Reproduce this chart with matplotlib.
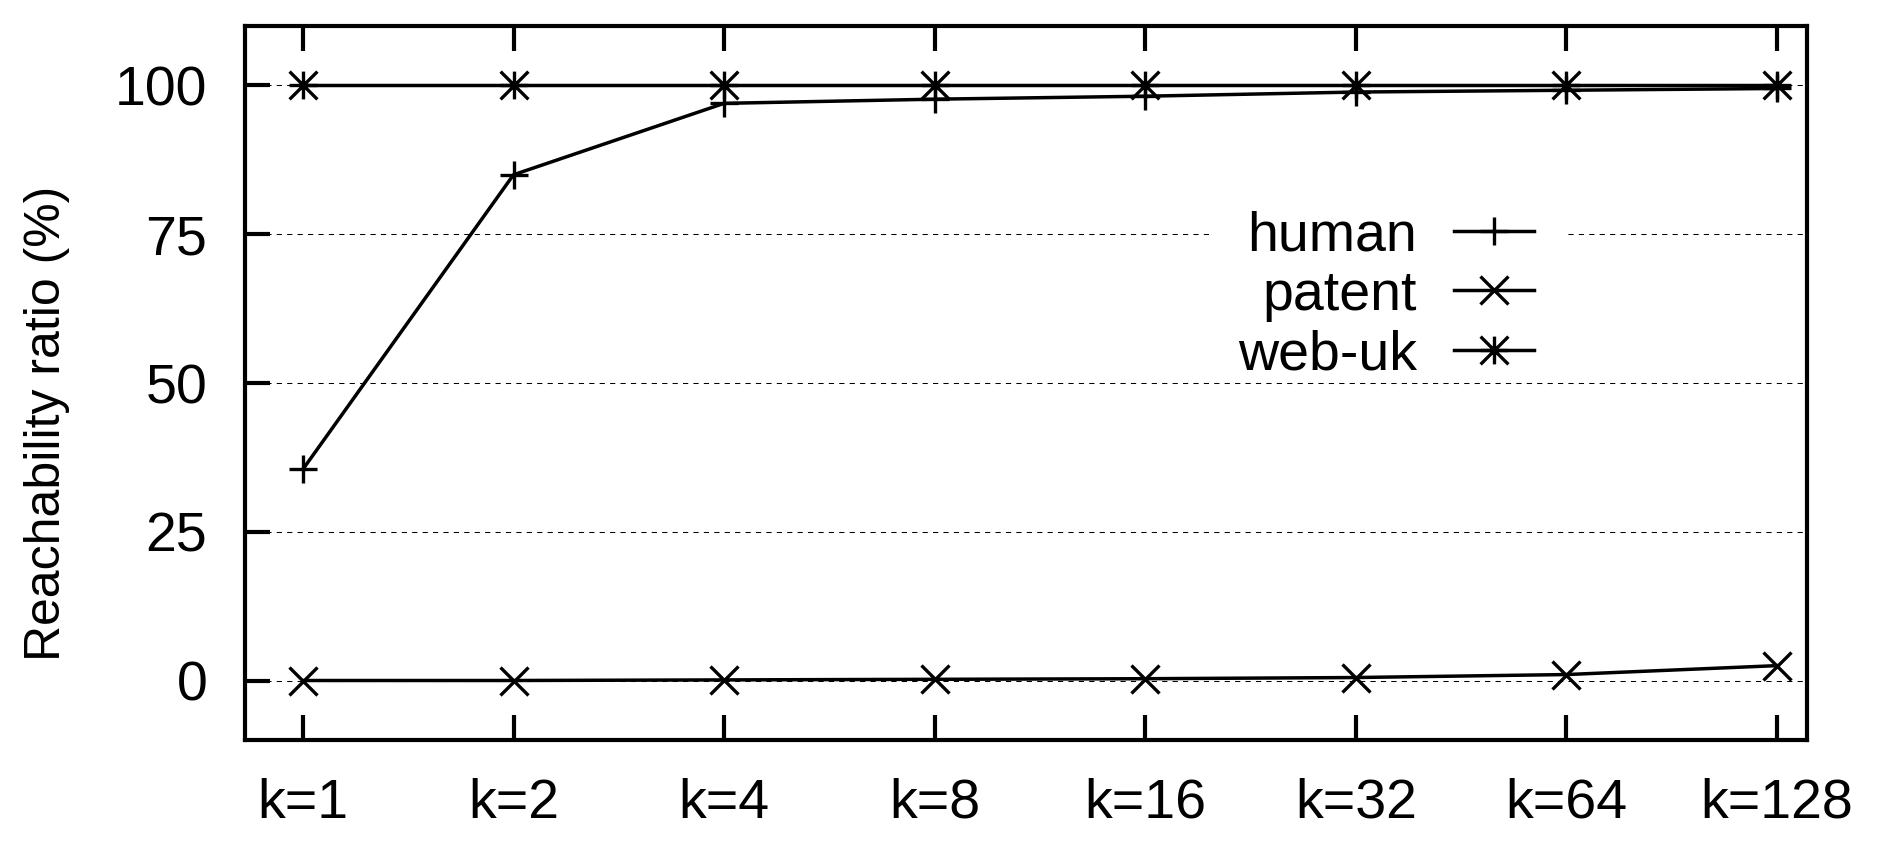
import matplotlib
matplotlib.use("Agg")
import matplotlib.pyplot as plt
from matplotlib.path import Path
from matplotlib.patches import Rectangle

# data
k_labels = ["k=1", "k=2", "k=4", "k=8", "k=16", "k=32", "k=64", "k=128"]
human = [35.5, 85.0, 97.0, 97.7, 98.2, 98.9, 99.2, 99.5]
patent = [0.0, 0.0, 0.1, 0.2, 0.3, 0.5, 1.0, 2.5]
web_uk = [100, 100, 100, 100, 100, 100, 100, 100]

plt.rcParams["font.family"] = ["Liberation Sans", "DejaVu Sans"]

# gnuplot style "*" = plus + cross inside a square
star = Path([(-1, 0), (1, 0), (0, -1), (0, 1), (-1, -1), (1, 1), (-1, 1), (1, -1)],
            [Path.MOVETO, Path.LINETO] * 4)

fig = plt.figure(figsize=(18.77, 8.46), dpi=100)
ax = fig.add_axes([245 / 1877, 106 / 846, 1562 / 1877, 714 / 846])

x = list(range(len(k_labels)))
style = dict(color="black", lw=2.5, markersize=20, mew=2.4, zorder=3)
ax.plot(x, human, marker="+", label="human", **style)
ax.plot(x, patent, marker="x", label="patent", **style)
ax.plot(x, web_uk, marker=star, label="web-uk", **style)

ax.set_xlim(-0.275, 7.142)
ax.set_ylim(-10, 110)
ax.set_xticks(x)
ax.set_xticklabels(k_labels)
ax.set_yticks([0, 25, 50, 75, 100])

ax.yaxis.grid(True, color="black", lw=0.75, ls=(0, (5, 5)), zorder=1)
ax.set_axisbelow(True)

for s in ax.spines.values():
    s.set_linewidth(3)
ax.tick_params(axis="both", direction="in", length=18, width=3, labelsize=40, pad=27)
ax.tick_params(axis="x", top=True)
ax.tick_params(axis="y", right=False)

ax.set_ylabel("Reachability ratio (%)", fontsize=36)
ax.yaxis.set_label_coords(-0.112, 0.443)

# white key box (gnuplot clears the grid behind the key)
ax.add_patch(Rectangle((0.618, 0.56), 0.228, 0.19, transform=ax.transAxes,
                       facecolor="white", edgecolor="none", zorder=2))

leg = ax.legend(loc="center right", bbox_to_anchor=(0.8255, 0.622), markerfirst=False,
                fontsize=40, frameon=False, borderpad=0.0, borderaxespad=0,
                labelspacing=0.13, handlelength=1.44, handletextpad=0.68, numpoints=1)
leg.set_zorder(5)

fig.savefig("out.png", dpi=100)
